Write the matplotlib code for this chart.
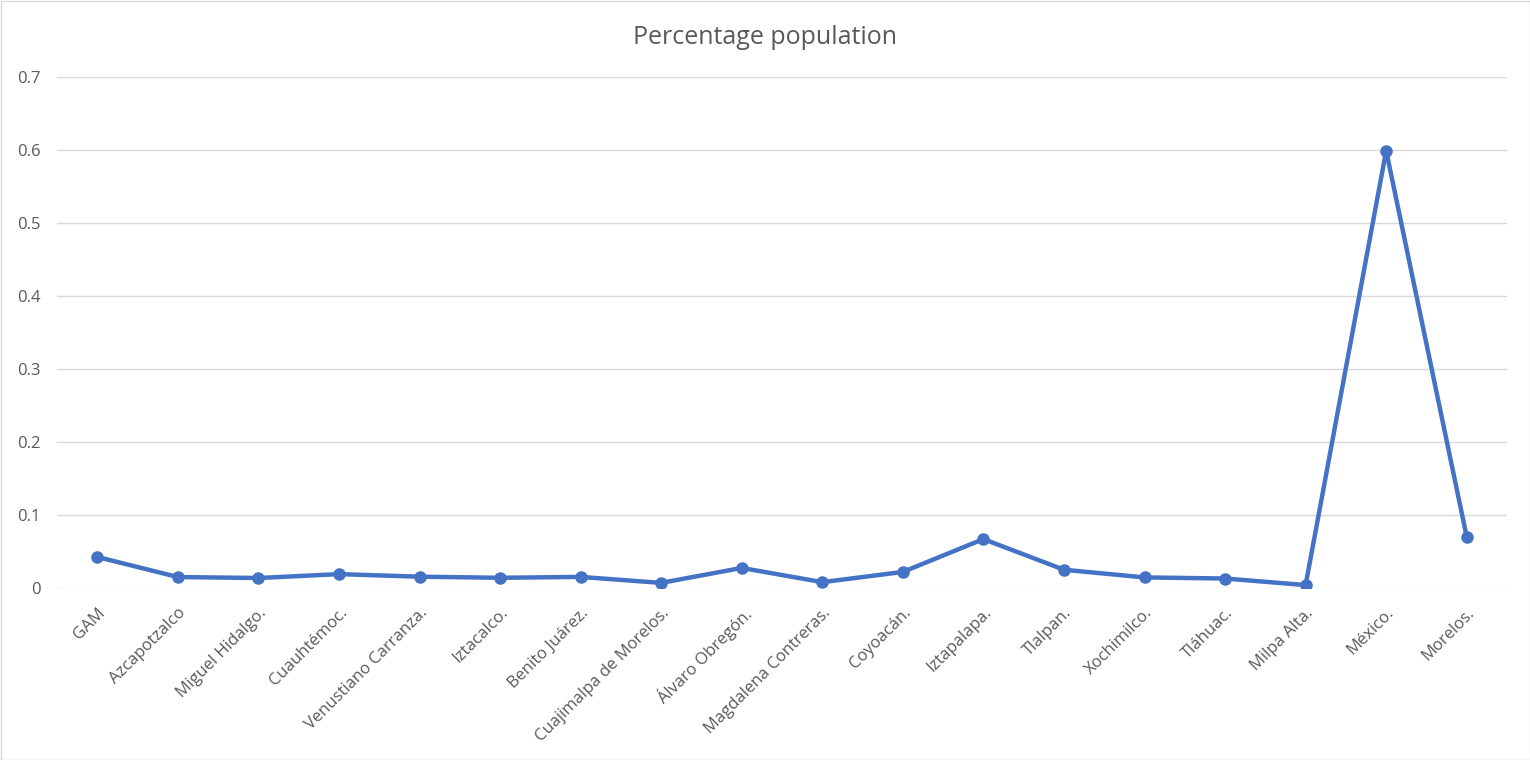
import numpy as np
import matplotlib.pyplot as plt
from matplotlib.patches import Rectangle

regions = ['GAM', 'Azcapotzalco', 'Miguel Hidalgo.', 'Cuauhtémoc.', 'Venustiano Carranza.',
           'Iztacalco.', 'Benito Juárez.', 'Cuajimalpa de Morelos.', 'Álvaro Obregón.',
           'Magdalena Contreras.', 'Coyoacán.', 'Iztapalapa.', 'Tlalpan.', 'Xochimilco.',
           'Tláhuac.', 'Milpa Alta.', 'México.', 'Morelos.']
percentage = [0.0425, 0.015, 0.0137, 0.019, 0.0155, 0.014, 0.0152, 0.007, 0.0275,
              0.008, 0.022, 0.067, 0.025, 0.0145, 0.013, 0.004, 0.599, 0.070]

plt.rcParams['font.family'] = ['Open Sans', 'DejaVu Sans']
grey = '#595959'

fig = plt.figure(figsize=(15.3, 7.6), dpi=100)
ax = fig.add_axes([57 / 1530, 1 - 588 / 760, 1450 / 1530, 511 / 760])

x = np.arange(len(regions))
ax.plot(x, percentage, color='#4472C4', linewidth=3.2, marker='o', markersize=8, zorder=3)

ax.set_xlim(-0.5, len(regions) - 0.5)
ax.set_ylim(0, 0.7)
ax.set_yticks(np.arange(0, 0.71, 0.1))
ax.set_yticklabels(['0'] + ['%.1f' % v for v in np.arange(0.1, 0.71, 0.1)])
ax.set_xticks(x)
ax.set_xticklabels(regions, rotation=45, ha='right', rotation_mode='anchor')
ax.tick_params(axis='both', length=0, labelsize=12, labelcolor=grey)
ax.tick_params(axis='x', pad=12)
ax.tick_params(axis='y', pad=12)
ax.grid(axis='y', color='#D9D9D9', linewidth=1)
ax.set_axisbelow(True)
for s in ax.spines.values():
    s.set_visible(False)

fig.text(0.5, 1 - 37 / 760, 'Percentage population', ha='center', va='center',
         fontsize=18, color=grey)

fig.patches.append(Rectangle((0.5 / 1530, 0.5 / 760), 1 - 1 / 1530, 1 - 1 / 760,
                             transform=fig.transFigure, fill=False,
                             edgecolor='#D9D9D9', linewidth=1))

fig.savefig('out.png', dpi=100)
